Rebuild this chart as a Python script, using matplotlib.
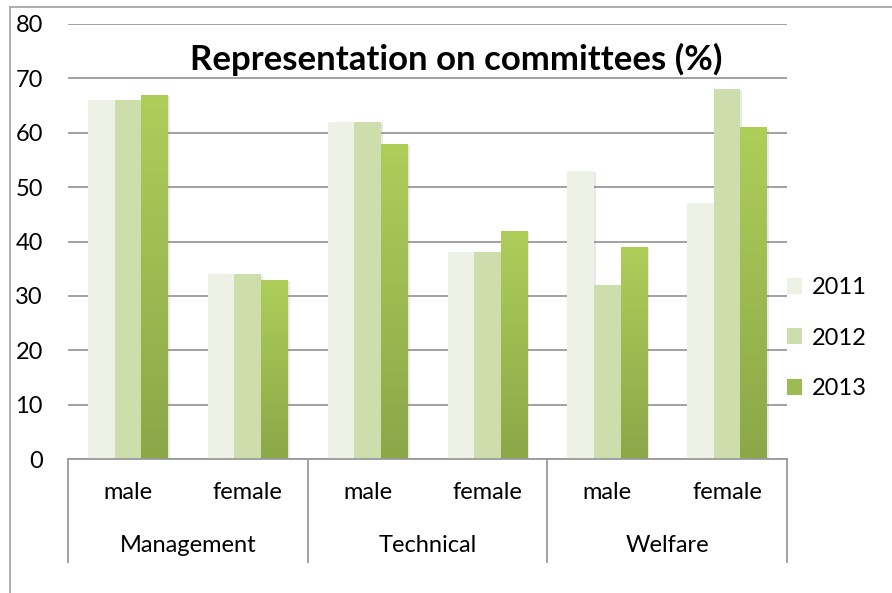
import numpy as np
import matplotlib
matplotlib.use('Agg')
import matplotlib.pyplot as plt
import matplotlib.patheffects as pe
from matplotlib.colors import LinearSegmentedColormap
from matplotlib.patches import Patch
from matplotlib.lines import Line2D

plt.rcParams['font.family'] = ['Lato', 'DejaVu Sans']

# Data.
groups = ['Management', 'Technical', 'Welfare']
genders = ['male', 'female']
years = ['2011', '2012', '2013']
v2011 = [66, 34, 62, 38, 53, 47]
v2012 = [66, 34, 62, 38, 32, 68]
v2013 = [67, 33, 58, 42, 39, 61]
yticks = [0, 10, 20, 30, 40, 50, 60, 70, 80]

colors = ['#EEF1E5', '#CDDDAC', '#9DBB53']
grad = LinearSegmentedColormap.from_list('g', ['#8BA748', '#AECE5A'])
grid_col = '#9a9a9a'
fs = 17

fig = plt.figure(figsize=(8.92, 5.93), dpi=100)
ax = fig.add_axes([68/892, 134/593, (787-68)/892, 435/593])

x = np.arange(len(v2011)) + 0.5
w = 0.222
shadow = [pe.SimplePatchShadow(offset=(1.5, -1), shadow_rgbFace='#888888', alpha=0.18), pe.Normal()]

for i, vals in enumerate([v2011, v2012, v2013]):
    bars = ax.bar(x + (i - 1)*w, vals, w, color=colors[i], linewidth=0,
                  zorder=2, path_effects=shadow)
    if i == 2:
        # gradient fill for the 2013 bars
        for rect in bars:
            im = ax.imshow(np.linspace(0, 1, 200).reshape(-1, 1), cmap=grad,
                           origin='lower', aspect='auto', zorder=2.5,
                           extent=[rect.get_x(), rect.get_x() + rect.get_width(),
                                   0, rect.get_height()])
            im.set_clip_path(rect)

ax.set_xlim(0, 6)
ax.set_ylim(0, 80)
ax.set_yticks(yticks)
ax.set_xticks([])
ax.tick_params(axis='y', length=0, pad=18, labelsize=fs)
ax.yaxis.grid(True, color=grid_col, linewidth=1.3)
ax.set_axisbelow(True)
for s in ['top', 'left', 'right']:
    ax.spines[s].set_visible(False)
ax.spines['bottom'].set_color(grid_col)
ax.spines['bottom'].set_linewidth(1.3)

# Two-level category axis.
xt = ax.get_xaxis_transform()
for xv in [0, 2, 4, 6]:
    ax.plot([xv, xv], [0, -0.237], transform=xt, clip_on=False,
            color=grid_col, linewidth=1.3)
for k, xc in enumerate(x):
    ax.text(xc, -0.078, genders[k % 2], transform=xt, ha='center', va='center', fontsize=fs)
for g, name in enumerate(groups):
    ax.text(2*g + 1, -0.198, name, transform=xt, ha='center', va='center', fontsize=fs)

# Legend.
handles = [Patch(facecolor=c, linewidth=0) for c in colors]
ax.legend(handles, years, loc='center left', bbox_to_anchor=(1.0, 0.278),
          frameon=False, fontsize=fs, handlelength=0.65, handleheight=0.65,
          labelspacing=1.25, handletextpad=0.4, borderaxespad=0, borderpad=0)

# Title.
fig.text(456/892, 1 - 70/593, 'Representation on committees (%)',
         ha='center', va='baseline', fontsize=25, fontweight='bold')

# Chart border (left and top only visible).
fig.add_artist(Line2D([10/892, 10/892], [0, 1 - 7/593], transform=fig.transFigure,
                      color='#a8a8a8', linewidth=1.3))
fig.add_artist(Line2D([10/892, 1], [1 - 7/593, 1 - 7/593], transform=fig.transFigure,
                      color='#a8a8a8', linewidth=1.3))

fig.savefig('out.png', dpi=100)
